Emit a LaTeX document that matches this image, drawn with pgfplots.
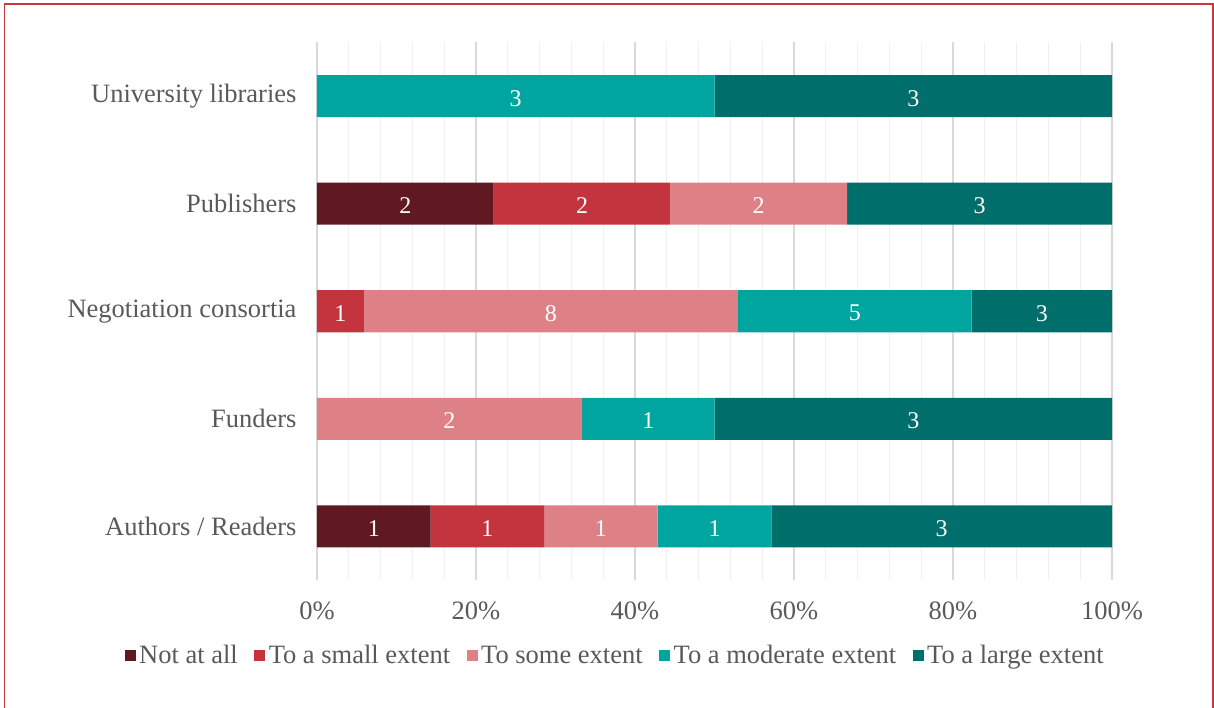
\documentclass[border=0pt]{standalone}
\usepackage{fontspec}
\setmainfont{Liberation Serif}
\usepackage{pgfplots}
\usepackage{pgfplotstable}
\pgfplotsset{compat=1.18}
\definecolor{cNot}{HTML}{601921}
\definecolor{cSmall}{HTML}{C4343E}
\definecolor{cSome}{HTML}{DE8187}
\definecolor{cMod}{HTML}{00A5A0}
\definecolor{cLarge}{HTML}{006E6B}
\definecolor{txtgray}{HTML}{595959}
\definecolor{frame}{HTML}{C8373D}

% y: 0 Authors/Readers, 1 Funders, 2 Negotiation consortia, 3 Publishers, 4 University libraries
\pgfplotstableread{
y pct n
0 14.2857 1
1 0 0
2 0 0
3 22.2222 2
4 0 0
}\tNot
\pgfplotstableread{
y pct n
0 14.2857 1
1 0 0
2 5.8824 1
3 22.2222 2
4 0 0
}\tSmall
\pgfplotstableread{
y pct n
0 14.2857 1
1 33.3333 2
2 47.0588 8
3 22.2222 2
4 0 0
}\tSome
\pgfplotstableread{
y pct n
0 14.2857 1
1 16.6667 1
2 29.4118 5
3 0 0
4 50 3
}\tMod
\pgfplotstableread{
y pct n
0 42.8571 3
1 50 3
2 17.6469 3
3 33.3333 3
4 50 3
}\tLarge

\begin{document}
\begin{tikzpicture}[font=\fontsize{26.5bp}{31bp}\selectfont]
\useasboundingbox (-317bp,-128bp) rectangle (897bp,580bp);
\begin{scope}
\clip (-317bp,-128bp) rectangle (897bp,580bp);
\draw[frame, line width=1.8bp] (-312.5bp,-300bp) rectangle (896bp,576bp);
\end{scope}
\begin{axis}[
  at={(0,0)}, anchor=south west,
  scale only axis,
  width=795bp, height=537.5bp,
  xbar stacked,
  bar width=42bp,
  xmin=0, xmax=100,
  ymin=-0.5, ymax=4.5,
  xtick={0,20,40,60,80,100},
  minor x tick num=4,
  xticklabel={\pgfmathprintnumber{\tick}\%},
  /pgf/number format/assume math mode=true,
  ytick={0,1,2,3,4},
  yticklabels={Authors / Readers, Funders, Negotiation consortia, Publishers, University libraries},
  xmajorgrids, xminorgrids,
  major grid style={draw=black!15, line width=1.3bp},
  minor grid style={draw=black!6, line width=1.1bp},
  axis line style={draw=none},
  major tick length=0pt, minor tick length=0pt,
  tick label style={text=txtgray},
  yticklabel style={anchor=east, xshift=-17bp},
  xticklabel style={anchor=north, yshift=-18bp},
  point meta=explicit,
  nodes near coords={\pgfmathfloatifflags{\pgfplotspointmeta}{0}{}{\pgfmathprintnumber{\pgfplotspointmeta}}},
  every node near coord/.append style={text=white, anchor=center, yshift=-2bp, font=\fontsize{24bp}{28bp}\selectfont},
  legend columns=-1,
  legend style={at={(0.376,-0.14)}, anchor=center, draw=none, fill=none,
    text=txtgray, font=\fontsize{26.5bp}{31bp}\selectfont,
    nodes={inner xsep=3.5bp, inner ysep=2bp},
    /tikz/every even column/.append style={column sep=13bp}},
]
\addplot[fill=cNot, draw=none, legend image code/.code={\fill[cNot] (0bp,-6bp) rectangle (11bp,5bp);}] table[x=pct, y=y, meta=n] {\tNot};
\addlegendentry{Not at all}
\addplot[fill=cSmall, draw=none, legend image code/.code={\fill[cSmall] (0bp,-6bp) rectangle (11bp,5bp);}] table[x=pct, y=y, meta=n] {\tSmall};
\addlegendentry{To a small extent}
\addplot[fill=cSome, draw=none, legend image code/.code={\fill[cSome] (0bp,-6bp) rectangle (11bp,5bp);}] table[x=pct, y=y, meta=n] {\tSome};
\addlegendentry{To some extent}
\addplot[fill=cMod, draw=none, legend image code/.code={\fill[cMod] (0bp,-6bp) rectangle (11bp,5bp);}] table[x=pct, y=y, meta=n] {\tMod};
\addlegendentry{To a moderate extent}
\addplot[fill=cLarge, draw=none, legend image code/.code={\fill[cLarge] (0bp,-6bp) rectangle (11bp,5bp);}] table[x=pct, y=y, meta=n] {\tLarge};
\addlegendentry{To a large extent}
\end{axis}
\end{tikzpicture}
\end{document}
